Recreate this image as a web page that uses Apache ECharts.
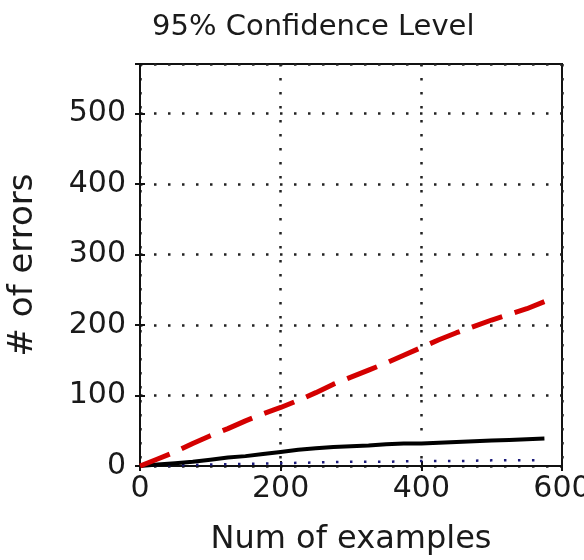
<!DOCTYPE html>
<html>
<head>
<meta charset="utf-8">
<script src="https://cdn.jsdelivr.net/npm/echarts@6/dist/echarts.min.js"></script>
<style>html,body{margin:0;padding:0;background:#fff}#c{width:584px;height:560px}</style>
</head>
<body>
<div id="c"></div>
<script>
var titleText = '95% Confidence Level';
var xName = 'Num of examples';
var yName = '# of errors';
var xValues = [0,25,50,75,100,125,150,175,200,225,250,275,300,325,350,375,400,425,450,475,500,525,550,575];
var upperBound = [0,10,20,32,43,53,64,74,83,93,104,116,126,136,146,157,168,179,189,198,207,215,223,233];
var observed = [0,2,4,6,9,12,14,17,20,23,25,27,28,29,31,32,32,33,34,35,36,37,38,39];
var lowerBound = [0,0.5,1,1.5,2,2.5,3,3.5,4,4.5,5,5.5,6,6,6,6.5,7,7,7,7.5,8,8,8,8];
var xTicks = [0,200,400,600];
var yTicks = [0,100,200,300,400,500];

function pairs(ys){ return xValues.map(function(x,i){ return [x, ys[i]]; }); }
var font = 'DejaVu Sans';
var chart = echarts.init(document.getElementById('c'));
chart.setOption({
  backgroundColor: '#fff',
  animation: false,
  title: { text: titleText, left: 147, top: 8,
    textStyle: { fontFamily: font, fontSize: 29, fontWeight: 'normal', color: '#1a1a1a' } },
  grid: { left: 140, top: 64, right: 22, bottom: 94, show: true, borderColor: '#111', borderWidth: 2,
    backgroundColor: '#fff', outerBoundsMode: 'none', containLabel: false },
  xAxis: [{
    type: 'value', min: 0, max: 600, interval: 200,
    name: xName, nameLocation: 'middle', nameGap: 58,
    nameTextStyle: { fontFamily: font, fontSize: 32, color: '#1a1a1a' },
    axisLine: { show: true, lineStyle: { color: '#111', width: 2 } },
    axisTick: { show: true, inside: true, length: 5, lineStyle: { color: '#111', width: 2 } },
    axisLabel: { fontFamily: font, fontSize: 30, color: '#1a1a1a', margin: 8,
      formatter: function(v){ return xTicks.indexOf(v) >= 0 ? String(v) : ''; } },
    splitLine: { show: true, lineStyle: { color: '#222', width: 2.5, type: [2.5, 11.5] } }
  }, {
    type: 'value', min: 0, max: 600, interval: 200, position: 'top',
    axisLine: { show: false }, axisLabel: { show: false }, splitLine: { show: false },
    axisTick: { show: true, inside: true, length: 5, lineStyle: { color: '#111', width: 2 } }
  }],
  yAxis: [{
    type: 'value', min: 0, max: 570, interval: 100,
    name: yName, nameLocation: 'middle', nameGap: 100, nameRotate: 90,
    nameTextStyle: { fontFamily: font, fontSize: 34, color: '#1a1a1a' },
    axisLine: { show: true, lineStyle: { color: '#111', width: 2 } },
    axisTick: { show: true, inside: true, length: 5, lineStyle: { color: '#111', width: 2 } },
    axisLabel: { fontFamily: font, fontSize: 30, color: '#1a1a1a', margin: 14,
      formatter: function(v){ return yTicks.indexOf(v) >= 0 ? String(v) : ''; } },
    splitLine: { show: true, lineStyle: { color: '#222', width: 2.5, type: [2.5, 11.5] } }
  }, {
    type: 'value', min: 0, max: 570, interval: 100, position: 'right',
    axisLine: { show: false }, axisLabel: { show: false }, splitLine: { show: false },
    axisTick: { show: true, inside: true, length: 5, lineStyle: { color: '#111', width: 2 } }
  }],
  series: [{
    type: 'line', data: pairs(lowerBound), showSymbol: false, z: 3,
    lineStyle: { color: '#1a1a7a', width: 2.5, type: [2.5, 11.5] }
  }, {
    type: 'line', data: pairs(observed), showSymbol: false, z: 4,
    lineStyle: { color: '#000', width: 4 }
  }, {
    type: 'line', data: pairs(upperBound), showSymbol: false, z: 5,
    lineStyle: { color: '#d40000', width: 5, type: [32, 13] }
  }]
});
</script>
</body>
</html>
